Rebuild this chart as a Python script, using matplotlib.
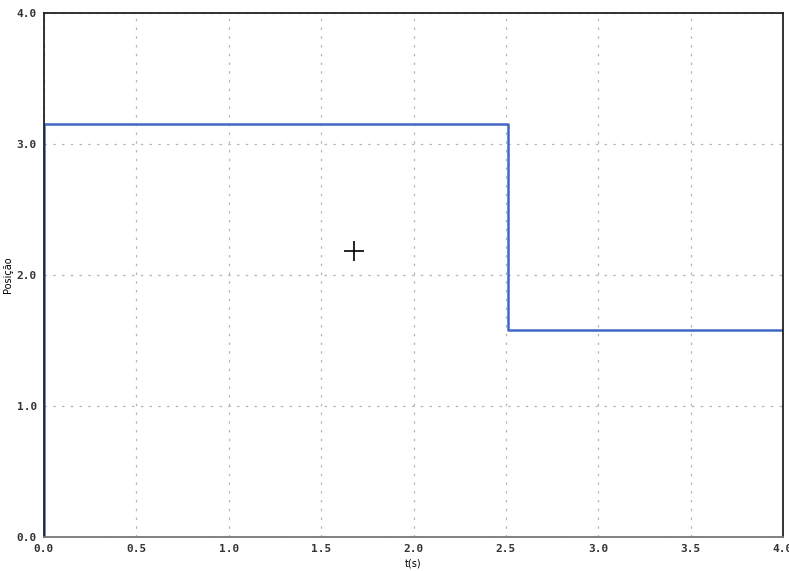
import numpy as np
import matplotlib.pyplot as plt

# position trace (step response)
t = [0.0, 0.0, 0.0, 2.51, 2.51, 4.0]
pos = [0.0, 1.58, 3.15, 3.15, 1.58, 1.58]

xticks = [0.0, 0.5, 1.0, 1.5, 2.0, 2.5, 3.0, 3.5, 4.0]
yticks = [0.0, 1.0, 2.0, 3.0, 4.0]
cursor = (1.68, 2.18)

fig = plt.figure(figsize=(7.89, 5.71), dpi=100)
ax = fig.add_axes([44/789, 34/571, 739/789, 524/571])

ax.plot(t, pos, color="#4166c4", lw=1.8)
ax.plot(*cursor, marker="+", color="black", markersize=14, mew=1.2)

ax.set_xlim(0, 4)
ax.set_ylim(0, 4)
ax.set_xticks(xticks)
ax.set_yticks(yticks)
ax.set_xticklabels(["%.1f" % v for v in xticks], family="DejaVu Sans Mono", fontsize=8, fontweight="bold", color="#333333")
ax.set_yticklabels(["%.1f" % v for v in yticks], family="DejaVu Sans Mono", fontsize=8, fontweight="bold", color="#333333")
ax.tick_params(length=0, pad=5)
ax.grid(True, color="#b5b5b5", linestyle=(0, (2, 5)), lw=0.9)

ax.set_xlabel("t(s)", fontsize=7, labelpad=3)
ax.set_ylabel("Posição", fontsize=7, labelpad=3)

for s in ax.spines.values():
    s.set_color("#222222")
    s.set_linewidth(1.3)
ax.spines["bottom"].set_color("#777777")

plt.savefig("out.png")
